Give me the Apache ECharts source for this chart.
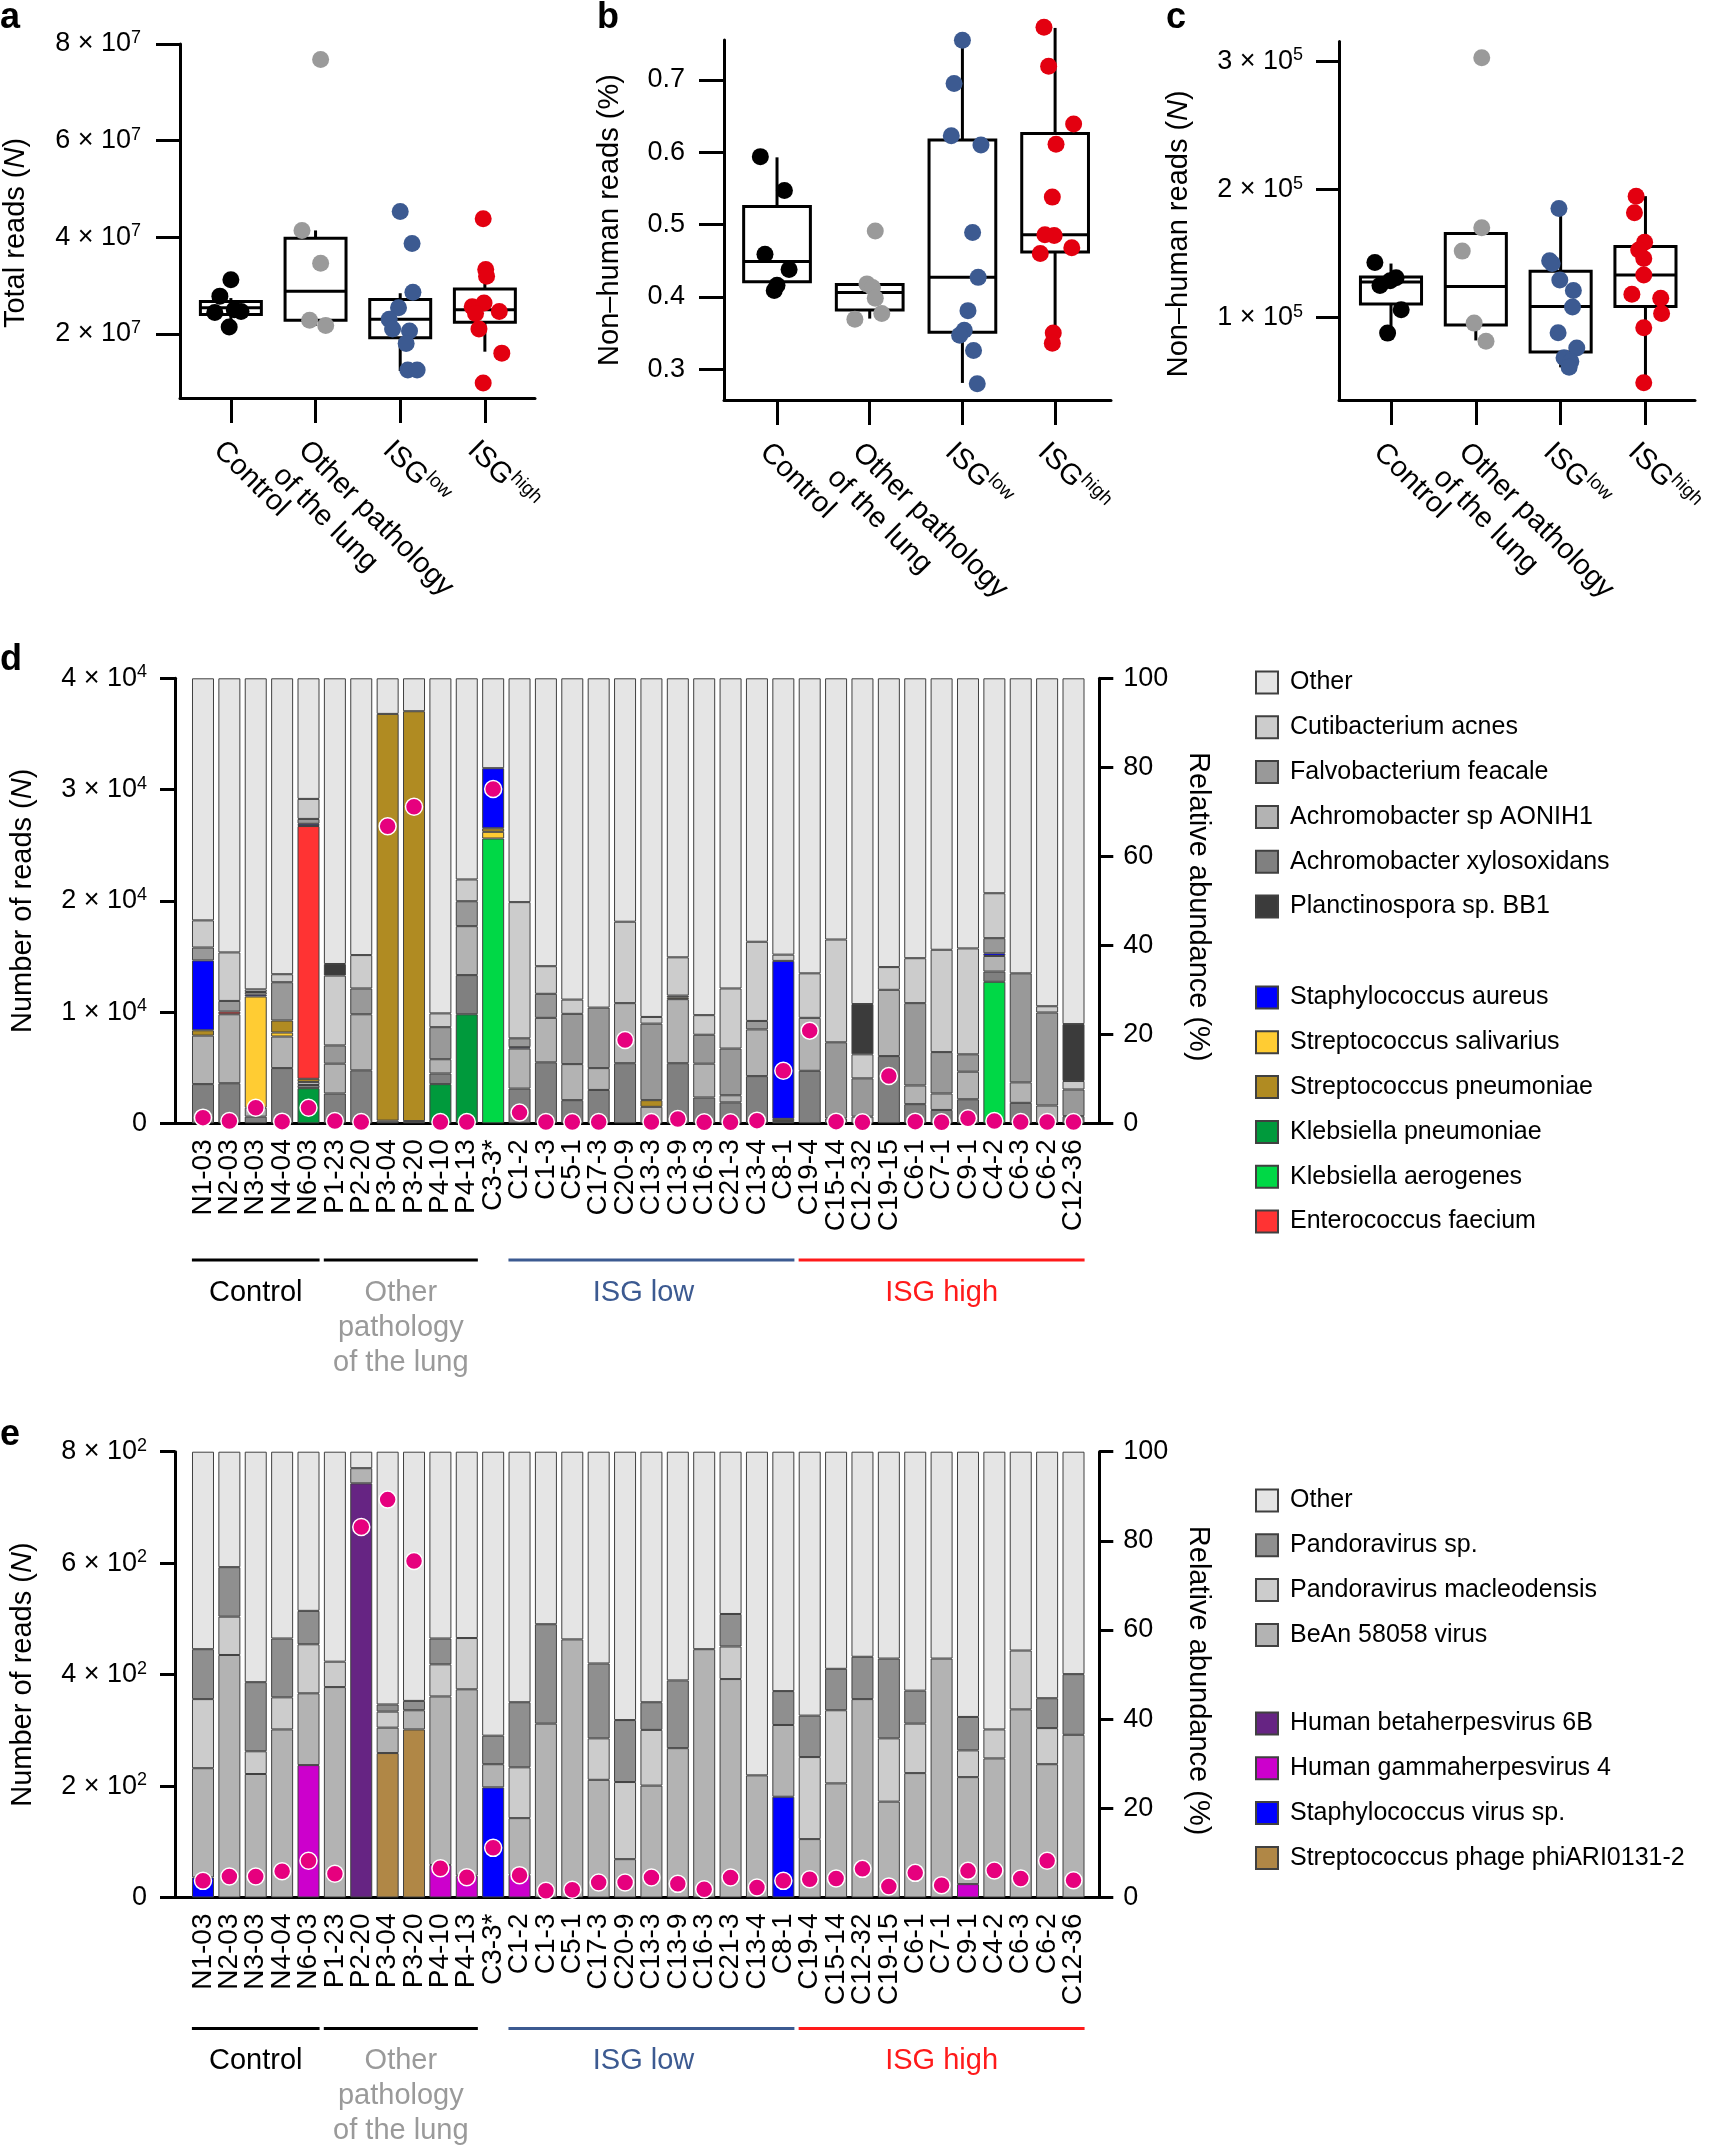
<!DOCTYPE html>
<html><head><meta charset="utf-8">
<script src="https://cdn.jsdelivr.net/npm/echarts@6/dist/echarts.min.js"></script>
<style>html,body{margin:0;padding:0;background:#fff}#chart{width:1709px;height:2146px}</style>
</head><body><div id="chart"></div>
<script>
// ---------------- DATA ----------------
const groupNames = ['Control', 'Other pathology\nof the lung', 'ISG{s|low}', 'ISG{s|high}'];
const groupTitles = ['Control', 'Other\npathology\nof the lung', 'ISG low', 'ISG high'];

// panel a: total reads; points as [jitter offset, value]
const aControl = [[0.00,3.12e7],[-0.13,2.78e7],[-0.19,2.44e7],[0.04,2.50e7],[0.12,2.46e7],[-0.02,2.14e7]];
const aOther = [[0.06,7.68e7],[-0.16,4.14e7],[0.06,3.46e7],[-0.07,2.28e7],[0.12,2.17e7]];
const aLow = [[0.00,4.53e7],[0.14,3.87e7],[0.15,2.86e7],[-0.02,2.54e7],[-0.13,2.30e7],[-0.09,2.10e7],[0.11,2.06e7],[0.07,1.80e7],[0.09,1.25e7],[0.20,1.25e7]];
const aHigh = [[-0.02,4.38e7],[0.01,3.33e7],[0.02,3.19e7],[-0.15,2.56e7],[-0.01,2.64e7],[0.17,2.46e7],[-0.11,2.42e7],[-0.07,2.10e7],[0.20,1.60e7],[-0.02,0.98e7]];
// box stats: [lower whisker, q1, median, q3, upper whisker]
const aBoxes = [[2.14e7,2.40e7,2.54e7,2.67e7,2.74e7],[2.17e7,2.28e7,2.88e7,3.98e7,4.14e7],[1.23e7,1.92e7,2.30e7,2.71e7,2.84e7],[1.63e7,2.24e7,2.50e7,2.93e7,3.19e7]];
const aTicks = [2e7,4e7,6e7,8e7];

// panel b: non-human reads (%)
const bControl = [[-0.18,0.594],[0.08,0.547],[-0.13,0.459],[0.13,0.438],[0.00,0.416],[-0.03,0.409]];
const bOther = [[0.06,0.491],[-0.03,0.418],[0.03,0.413],[0.06,0.398],[0.13,0.377],[-0.16,0.369]];
const bLow = [[0.00,0.755],[-0.09,0.695],[-0.12,0.623],[0.20,0.610],[0.11,0.489],[0.17,0.427],[0.06,0.381],[0.02,0.354],[-0.03,0.347],[0.12,0.326],[0.16,0.280]];
const bHigh = [[-0.12,0.773],[-0.07,0.719],[0.20,0.639],[0.01,0.611],[-0.03,0.538],[-0.01,0.485],[-0.11,0.486],[0.18,0.468],[-0.16,0.460],[-0.02,0.350],[-0.03,0.336]];
const bBoxes = [[0.409,0.421,0.449,0.525,0.593],[0.370,0.382,0.406,0.417,0.418],[0.281,0.351,0.427,0.617,0.755],[0.337,0.462,0.486,0.626,0.772]];
const bTicks = [0.3,0.4,0.5,0.6,0.7];

// panel c: non-human reads (N)
const cControl = [[-0.19,1.432e5],[-0.13,1.252e5],[-0.01,1.288e5],[0.06,1.312e5],[0.12,1.063e5],[-0.04,0.880e5]];
const cOther = [[0.07,3.03e5],[0.07,1.703e5],[-0.16,1.520e5],[-0.02,0.958e5],[0.12,0.817e5]];
const cLow = [[-0.02,1.853e5],[-0.13,1.444e5],[-0.10,1.423e5],[-0.01,1.294e5],[0.15,1.213e5],[0.14,1.084e5],[-0.03,0.883e5],[0.19,0.763e5],[0.04,0.688e5],[0.12,0.658e5],[0.10,0.613e5]];
const cHigh = [[-0.11,1.949e5],[-0.13,1.820e5],[-0.01,1.589e5],[-0.08,1.529e5],[-0.02,1.462e5],[-0.02,1.333e5],[-0.16,1.183e5],[0.18,1.153e5],[0.19,1.033e5],[-0.02,0.922e5],[-0.02,0.492e5]];
const cBoxes = [[0.883e5,1.108e5,1.279e5,1.318e5,1.423e5],[0.823e5,0.943e5,1.243e5,1.658e5,1.658e5],[0.613e5,0.733e5,1.087e5,1.363e5,1.844e5],[0.492e5,1.087e5,1.333e5,1.556e5,1.949e5]];
const cTicks = [1e5,2e5,3e5];

// panels d/e samples
const samples = ['N1-03','N2-03','N3-03','N4-04','N6-03','P1-23','P2-20','P3-04','P3-20','P4-10','P4-13','C3-3*','C1-2','C1-3','C5-1','C17-3','C20-9','C13-3','C13-9','C16-3','C21-3','C13-4','C8-1','C19-4','C15-14','C12-32','C19-15','C6-1','C7-1','C9-1','C4-2','C6-3','C6-2','C12-36'];
const groupSpans = [[0,4],[5,10],[12,22],[23,33]];
const groupTitleAt = [2,7.5,16.7,28];

// panel d: relative abundance (%) per species
const dKpneu  = [0,0,0,0,7.9,0,0,0,0,8.8,24.5,0,0,0,0,0,0,0,0,0,0,0,0,0,0,0,0,0,0,0,0,0,0,0];
const dKaero  = [0,0,0,0,0,0,0,0,0,0,0,64.0,0,0,0,0,0,0,0,0,0,0,0,0,0,0,0,0,0,0,31.8,0,0,0];
const dXylo   = [8.8,9.0,1.5,12.4,0.7,6.7,11.9,0.6,0.5,2.4,8.8,0,7.8,13.7,5.2,7.5,13.5,0,13.5,5.8,4.7,10.6,0.5,11.8,0,0,15.1,4.3,3.0,5.4,2.3,4.6,0,1.6];
const dAon    = [10.9,15.5,2.0,7.1,0.7,6.7,12.6,0,0,3.2,11.0,0,9.0,10.0,8.1,4.9,13.5,3.7,14.4,7.6,1.6,10.5,0,11.9,1.1,1.5,14.9,4.2,3.7,6.2,3.5,4.6,4.0,0];
const dSsal   = [0,0,25.0,0.9,0,0,0,0,0,0,0,1.5,0,0,0,0,0,0,0,0,0,0,0,0,0,0,0,0,0,0,0,0,0,0];
const dSpneu  = [1.2,0,0,2.7,0.7,0,0,91.4,92.1,0,0,0.8,0,0,0,0,0,1.5,0.4,0,0,0,0.5,0,0,0,0,0,0,0,0,0,0,0];
const dEntero = [0,0.6,0,0,56.8,0,0,0,0,0,0,0,0,0,0,0,0,0,0,0,0,0,0,0,0,0,0,0,0,0,0,0,0,0];
const dStaph  = [15.7,0,0.4,0,0.5,0,0,0,0,0,0,13.5,0.3,0,0,0,0,0,0,0,0,0,35.5,0,0,0,0,0,0,0,0.6,0,0,0];
const dFalvo  = [2.9,2.4,0.6,8.6,1.1,4.1,5.8,0,0,7.2,5.6,0,2.0,5.4,11.3,13.6,0,17.2,0.4,6.5,10.5,1.9,0,0,17.1,8.6,0,18.5,9.3,3.9,3.4,24.5,20.9,6.0];
const dCuti   = [6.1,10.9,0.6,1.8,4.5,15.7,7.5,0,0,3.1,4.9,0,30.6,6.2,3.2,0,18.3,1.5,8.6,4.4,13.5,17.8,1.4,10.0,23.1,5.4,5.1,10.1,23.0,23.8,10.1,0,1.4,1.9];
const dPlanct = [0,0,0,0,0,2.6,0,0,0,0,0,0,0,0,0,0,0,0,0,0,0,0,0,0,0,11.3,0,0,0,0,0,0,0,12.8];
const dOther  = [54.4,61.6,69.9,66.5,27.1,64.2,62.2,8.0,7.4,75.3,45.2,20.2,50.3,64.7,72.2,74.0,54.7,76.1,62.7,75.7,69.7,59.2,62.1,66.3,58.7,73.2,64.9,62.9,61.0,60.7,48.3,66.3,73.7,77.7];
const dReads  = [510,210,1400,150,1400,200,120,26700,28460,120,120,30050,960,120,120,120,7490,120,390,100,100,240,4730,8330,150,100,4250,150,100,450,210,120,120,120];

// panel e: relative abundance (%) per virus
const eBeta    = [0,0,0,0,0,0,92.9,0,0,0,0,0,0,0,0,0,0,0,0,0,0,0,0,0,0,0,0,0,0,0,0,0,0,0];
const eGamma   = [0,0,0,0,29.7,0,0,0,0,7.3,4.9,0,5.1,0,0,0,0,0,0,0,0,0,0,0,0,0,0,0,0,3.0,0,0,0,0];
const eStaphV  = [4.5,0,0,0,0,0,0,0,0,0,0,24.7,0,0,0,0,0,0,0,0,0,0,22.6,0,0,0,0,0,0,0,0,0,0,0];
const eStrepPh = [0,0,0,0,0,0,0,32.4,37.7,0,0,0,0,0,0,0,0,0,0,0,0,0,0,0,0,0,0,0,0,0,0,0,0,0];
const eBeAn    = [24.5,54.4,27.7,37.7,16.1,47.2,3.4,5.7,4.3,37.8,41.8,5.2,12.7,39.0,57.9,26.4,8.6,25.1,33.5,55.7,49.0,27.4,16.1,13.1,25.6,44.5,21.5,27.9,53.6,24.0,31.2,42.2,29.9,36.5];
const eMacleo  = [15.5,8.6,5.1,7.2,11.0,5.7,0,3.6,0,7.2,11.5,0,11.4,0,0,9.3,17.3,12.5,0,0,7.3,0,0,18.4,16.4,0,14.2,11.1,0,6.0,6.5,13.2,8.1,0];
const ePandora = [11.2,11.1,15.5,13.2,7.5,0,0,1.6,2.1,5.8,0,6.4,14.6,22.3,0,16.8,13.9,6.2,15.2,0,7.3,0,7.6,9.3,9.3,9.5,17.9,7.4,0,7.5,0,0,6.7,13.6];
const eOther   = [44.3,25.9,51.7,41.9,35.7,47.1,3.7,56.7,55.9,41.9,41.8,63.7,56.2,38.7,42.1,47.5,60.2,56.2,51.3,44.3,36.4,72.6,53.7,59.2,48.7,46.0,46.4,53.6,46.4,59.5,62.3,44.6,55.3,49.9];
const eReads   = [29.9,37.7,37.7,47.2,65.8,42.5,665,714,604,52.6,36.5,89.1,40.1,12.0,13.8,26.9,26.9,35.9,24.5,14.9,35.9,17.9,29.9,32.9,34.1,51.4,19.7,44.2,22.1,47.8,48.4,34.1,65.8,31.1];

// ---------------- STYLE ----------------
const FONT = "'Liberation Sans', Arial, Helvetica, sans-serif";
const groupColors = ['#000000', '#9a9a9a', '#3c5a91', '#e30010'];
const titleColors = ['#000000', '#9a9a9a', '#3c5a91', '#ff1a1a'];
const lineColors = ['#000000', '#000000', '#3c5a91', '#ff1a1a'];
const speciesColors = {
  'Klebsiella pneumoniae':'#009a3c','Klebsiella aerogenes':'#00d846','Achromobacter xylosoxidans':'#808080',
  'Achromobacter sp AONIH1':'#b3b3b3','Streptococcus salivarius':'#ffcc33','Streptococcus pneumoniae':'#b08b22',
  'Enterococcus faecium':'#ff3333','Staphylococcus aureus':'#0000ff','Falvobacterium feacale':'#999999',
  'Cutibacterium acnes':'#cccccc','Planctinospora sp. BB1':'#3b3b3b','Other':'#e5e5e5',
  'Human betaherpesvirus 6B':'#662483','Human gammaherpesvirus 4':'#cc00cc','Staphylococcus virus sp.':'#0000ff',
  'Streptococcus phage phiARI0131-2':'#b08746','BeAn 58058 virus':'#b3b3b3','Pandoravirus macleodensis':'#cccccc',
  'Pandoravirus sp.':'#8f8f8f'
};
const dStack = [['Klebsiella pneumoniae',dKpneu],['Klebsiella aerogenes',dKaero],['Achromobacter xylosoxidans',dXylo],
  ['Achromobacter sp AONIH1',dAon],['Streptococcus salivarius',dSsal],['Streptococcus pneumoniae',dSpneu],
  ['Enterococcus faecium',dEntero],['Staphylococcus aureus',dStaph],['Falvobacterium feacale',dFalvo],
  ['Cutibacterium acnes',dCuti],['Planctinospora sp. BB1',dPlanct],['Other',dOther]];
const eStack = [['Human betaherpesvirus 6B',eBeta],['Human gammaherpesvirus 4',eGamma],['Staphylococcus virus sp.',eStaphV],
  ['Streptococcus phage phiARI0131-2',eStrepPh],['BeAn 58058 virus',eBeAn],['Pandoravirus macleodensis',eMacleo],
  ['Pandoravirus sp.',ePandora],['Other',eOther]];

const AX_LINE = {show:true, onZero:false, lineStyle:{color:'#000', width:3}};
const TICK_STYLE = {color:'#000', width:3};
const supRich = {
  n:{fontSize:27, color:'#000', fontFamily:FONT},
  s:{fontSize:18, color:'#000', verticalAlign:'top', lineHeight:16, fontFamily:FONT}
};
const supFmt = (exp, scale) => v => v === 0 ? '0' : `{n|${Math.round(v/scale)} × 10}{s|${exp}}`;

function catXAxis(grid, min, max) {
  return {gridIndex:grid, type:'value', min, max, splitLine:{show:false}, axisLine:AX_LINE,
    axisTick:{show:true, length:25, lineStyle:TICK_STYLE, customValues:[0,1,2,3]},
    axisLabel:{show:false}};
}
function nameStyle(pad) {
  return {fontSize:29, color:'#000', fontFamily:FONT, padding:pad,
    rich:{i:{fontStyle:'italic', fontSize:29, color:'#000', fontFamily:FONT}}};
}
function sampleXAxis(grid) {
  return {gridIndex:grid, type:'value', min:-1.061, max:33.978, splitLine:{show:false}, axisLine:AX_LINE,
    axisTick:{show:false}, axisLabel:{show:false}};
}

function renderBox(params, api) {
  const x = api.value(0);
  const lo = api.coord([x, api.value(1)]), q1 = api.coord([x, api.value(2)]), md = api.coord([x, api.value(3)]);
  const q3 = api.coord([x, api.value(4)]), hi = api.coord([x, api.value(5)]);
  const w = api.size([0.72, 0])[0];
  const st = {stroke:'#000', lineWidth:3, fill:null};
  return {type:'group', children:[
    {type:'line', shape:{x1:q3[0], y1:q3[1], x2:hi[0], y2:hi[1]}, style:st},
    {type:'line', shape:{x1:q1[0], y1:q1[1], x2:lo[0], y2:lo[1]}, style:st},
    {type:'rect', shape:{x:q3[0]-w/2, y:q3[1], width:w, height:q1[1]-q3[1]}, style:{stroke:'#000', lineWidth:3, fill:'rgba(255,255,255,0)'}},
    {type:'line', shape:{x1:md[0]-w/2, y1:md[1], x2:md[0]+w/2, y2:md[1]}, style:st}
  ]};
}
function boxPanel(idx, boxes, pts) {
  const s = [{type:'custom', xAxisIndex:idx, yAxisIndex:idx, renderItem:renderBox, clip:false, silent:true, z:2,
    data: boxes.map((b,i)=>[i, ...b]), encode:{x:0, y:[1,2,3,4,5]}}];
  pts.forEach((g,gi)=>s.push({type:'scatter', xAxisIndex:idx, yAxisIndex:idx, clip:false, silent:true, z:3,
    symbolSize:17, itemStyle:{color:groupColors[gi], opacity:1}, data: g.map(p=>[gi+p[0], p[1]])}));
  return s;
}
// value first so that ECharts stacks the value dimension (x is a value axis here)
function stackSeries(stack, xIdx, yIdx, list) {
  return list.map(([name, arr]) => ({type:'bar', name, stack, xAxisIndex:xIdx, yAxisIndex:yIdx, barWidth:22, silent:true,
    encode:{x:1, y:0},
    itemStyle:{color:speciesColors[name], borderColor:'#404040', borderWidth:1},
    data: arr.map((v,i)=>[v === 0 ? '-' : v, i])}));
}
function dotSeries(xIdx, yIdx, arr) {
  return {type:'scatter', xAxisIndex:xIdx, yAxisIndex:yIdx, clip:false, silent:true, z:10, symbolSize:17,
    itemStyle:{color:'#e6007e', borderColor:'#ffffff', borderWidth:1.5, opacity:1},
    data: arr.map((v,i)=>[i, v])};
}
function legend(top, names) {
  return {orient:'vertical', left:1250, top, itemWidth:22, itemHeight:22, itemGap:19.8, icon:'rect', selectedMode:false,
    data:names, textStyle:{fontSize:25, color:'#000', fontFamily:FONT, lineHeight:22, padding:[0,0,0,7]}};
}

const chart = echarts.init(document.getElementById('chart'), null, {renderer:'canvas'});
const option = {
  animation:false, backgroundColor:'#fff',
  textStyle:{fontFamily:FONT},
  grid:[
    {left:179, top:44, width:356, height:354},
    {left:724, top:40, width:387, height:360},
    {left:1339, top:41.5, width:356, height:358.5},
    {left:175, top:678.3, width:924.3, height:445},
    {left:175, top:1451.7, width:924.3, height:445.8}
  ],
  xAxis:[catXAxis(0,-0.601,3.592), catXAxis(1,-0.572,3.603), catXAxis(2,-0.613,3.584), sampleXAxis(3), sampleXAxis(4)],
  yAxis:[
    {gridIndex:0, type:'value', min:6.71e6, max:8e7, splitLine:{show:false}, axisLine:AX_LINE,
      axisTick:{length:24, lineStyle:TICK_STYLE, customValues:aTicks},
      axisLabel:{customValues:aTicks, margin:39, lineHeight:30, formatter:supFmt(7,1e7), rich:supRich},
      name:'Total reads ({i|N})', nameLocation:'middle', nameGap:150, nameTextStyle:nameStyle([0,24,0,0])},
    {gridIndex:1, type:'value', min:0.2574, max:0.7553, splitLine:{show:false}, axisLine:AX_LINE,
      axisTick:{length:25, lineStyle:TICK_STYLE, customValues:bTicks},
      axisLabel:{customValues:bTicks, margin:39, fontSize:27, color:'#000', fontFamily:FONT, formatter:v=>v.toFixed(1)},
      name:'Non–human reads (%)', nameLocation:'middle', nameGap:100, nameTextStyle:nameStyle([0,0,0,0])},
    {gridIndex:2, type:'value', min:0.358e5, max:3.156e5, splitLine:{show:false}, axisLine:AX_LINE,
      axisTick:{length:23, lineStyle:TICK_STYLE, customValues:cTicks},
      axisLabel:{customValues:cTicks, margin:36, lineHeight:30, formatter:supFmt(5,1e5), rich:supRich},
      name:'Non–human reads ({i|N})', nameLocation:'middle', nameGap:146, nameTextStyle:nameStyle([0,26,0,0])},
    {gridIndex:3, type:'value', min:0, max:40000, interval:10000, splitLine:{show:false}, axisLine:AX_LINE,
      axisTick:{length:15, lineStyle:TICK_STYLE},
      axisLabel:{margin:28, lineHeight:30, fontSize:27, color:'#000', fontFamily:FONT, formatter:supFmt(4,1e4), rich:supRich},
      name:'Number of reads ({i|N})', nameLocation:'middle', nameGap:138, nameTextStyle:nameStyle([0,0,0,0])},
    {gridIndex:3, type:'value', position:'right', min:0, max:100, interval:20, splitLine:{show:false}, axisLine:AX_LINE,
      axisTick:{length:14, lineStyle:TICK_STYLE},
      axisLabel:{margin:24, fontSize:27, color:'#000', fontFamily:FONT},
      name:'Relative abundance (%)', nameLocation:'middle', nameGap:84, nameRotate:-90, nameTextStyle:nameStyle([0,0,0,12])},
    {gridIndex:4, type:'value', min:0, max:800, interval:200, splitLine:{show:false}, axisLine:AX_LINE,
      axisTick:{length:15, lineStyle:TICK_STYLE},
      axisLabel:{margin:28, lineHeight:30, fontSize:27, color:'#000', fontFamily:FONT, formatter:supFmt(2,1e2), rich:supRich},
      name:'Number of reads ({i|N})', nameLocation:'middle', nameGap:138, nameTextStyle:nameStyle([0,0,0,0])},
    {gridIndex:4, type:'value', position:'right', min:0, max:100, interval:20, splitLine:{show:false}, axisLine:AX_LINE,
      axisTick:{length:14, lineStyle:TICK_STYLE},
      axisLabel:{margin:24, fontSize:27, color:'#000', fontFamily:FONT},
      name:'Relative abundance (%)', nameLocation:'middle', nameGap:84, nameRotate:-90, nameTextStyle:nameStyle([0,0,0,12])}
  ],
  legend:[
    legend(665, ['Other','Cutibacterium acnes','Falvobacterium feacale','Achromobacter sp AONIH1','Achromobacter xylosoxidans','Planctinospora sp. BB1']),
    legend(980, ['Staphylococcus aureus','Streptococcus salivarius','Streptococcus pneumoniae','Klebsiella pneumoniae','Klebsiella aerogenes','Enterococcus faecium']),
    legend(1483, ['Other','Pandoravirus sp.','Pandoravirus macleodensis','BeAn 58058 virus']),
    legend(1706, ['Human betaherpesvirus 6B','Human gammaherpesvirus 4','Staphylococcus virus sp.','Streptococcus phage phiARI0131-2'])
  ],
  series:[
    ...boxPanel(0, aBoxes, [aControl,aOther,aLow,aHigh]),
    ...boxPanel(1, bBoxes, [bControl,bOther,bLow,bHigh]),
    ...boxPanel(2, cBoxes, [cControl,cOther,cLow,cHigh]),
    ...stackSeries('d', 3, 4, dStack),
    dotSeries(3, 3, dReads),
    ...stackSeries('e', 4, 6, eStack),
    dotSeries(4, 5, eReads)
  ]
};
chart.setOption(option);

// annotations: panel letters, rotated category labels (placed from the axes), group brackets under d/e
const letters = [['a',0,18],['b',597,18],['c',1166,18],['d',0,660],['e',0,1435]];
const graphics = letters.map(([t,x,y]) => ({type:'text', x, y, silent:true,
  style:{text:t, font:`bold 36px ${FONT}`, fill:'#000', align:'left', verticalAlign:'middle'}}));
[0,1,2].forEach(k => {
  const axisY = chart.convertToPixel({yAxisIndex:k}, option.yAxis[k].min);
  groupNames.forEach((name, gi) => {
    const x = chart.convertToPixel({xAxisIndex:k}, gi);
    graphics.push({type:'text', silent:true, x, y:axisY + 35, rotation:-Math.PI/4,
      style:{text:name, fontSize:29, fontFamily:FONT, fill:'#000', align:'left', verticalAlign:'top', lineHeight:36,
        rich:{s:{fontSize:19, fontFamily:FONT, fill:'#000', verticalAlign:'top', lineHeight:20}}}});
  });
});
[[3,3],[4,5]].forEach(([ax, yAx]) => {
  const axisY = chart.convertToPixel({yAxisIndex:yAx}, 0);
  samples.forEach((name, i) => {
    const x = chart.convertToPixel({xAxisIndex:ax}, i);
    graphics.push({type:'text', silent:true, x, y:axisY + 16, rotation:Math.PI/2,
      style:{text:name, fontSize:28, fontFamily:FONT, fill:'#000', align:'right', verticalAlign:'middle'}});
  });
});
[[3,1260,1275.5],[4,2028.6,2043.5]].forEach(([ax, lineY, textY]) => {
  groupSpans.forEach(([s,e], gi) => {
    const x1 = chart.convertToPixel({xAxisIndex:ax}, s - 0.42);
    const x2 = chart.convertToPixel({xAxisIndex:ax}, e + 0.42);
    const xc = chart.convertToPixel({xAxisIndex:ax}, groupTitleAt[gi]);
    graphics.push({type:'line', silent:true, shape:{x1, y1:lineY, x2, y2:lineY}, style:{stroke:lineColors[gi], lineWidth:3}});
    graphics.push({type:'text', silent:true, x:xc, y:textY,
      style:{text:groupTitles[gi], font:`29px ${FONT}`, fill:titleColors[gi], align:'center', verticalAlign:'top', lineHeight:35}});
  });
});
chart.setOption({graphic:graphics});
</script></body></html>
